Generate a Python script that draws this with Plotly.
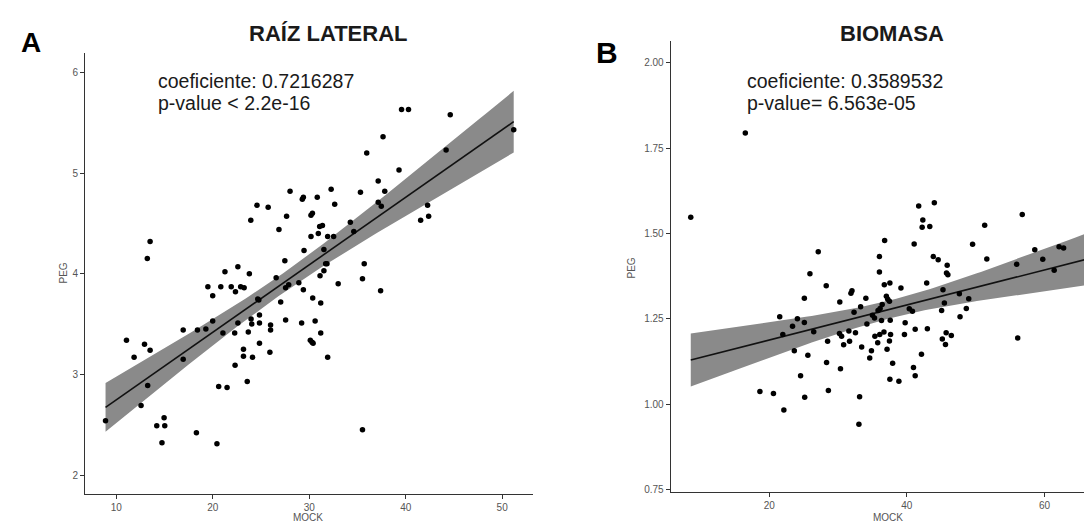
import numpy as np
import plotly.graph_objects as go

# ---------------- data ----------------
raiz_mock = [8.88, 11.05, 11.84, 12.56, 12.92, 13.25, 13.50, 13.50, 13.21, 14.19,
             14.73, 14.95, 15.02, 16.93, 16.93, 18.30, 18.41, 19.28, 19.49, 19.99,
             19.99, 20.43, 20.61, 20.83, 21.05, 21.26, 21.48, 21.91, 22.27, 22.31,
             22.35, 22.60, 22.60, 22.89, 23.18, 23.18, 23.25, 23.57, 23.68, 23.79,
             23.94, 23.97, 24.04, 24.12, 24.58, 24.66, 24.77, 24.84, 24.84, 24.84,
             25.74, 25.92, 25.99, 25.99, 26.57, 26.86, 27.04, 27.47, 27.55, 27.55,
             27.65, 27.87, 28.01, 28.92, 29.21, 29.28, 29.39, 29.39, 29.46, 30.11,
             30.18, 30.18, 30.29, 30.40, 30.33, 30.36, 30.61, 30.83, 30.94, 31.08,
             31.12, 31.19, 31.19, 31.37, 31.52, 31.52, 31.70, 31.84, 31.91, 31.91,
             32.27, 32.53, 32.64, 33.00, 34.26, 34.62, 35.31, 35.52, 35.52, 35.70,
             35.96, 37.15, 37.15, 37.40, 37.47, 37.65, 37.83, 39.31, 39.57, 40.29,
             41.55, 42.27, 42.38, 44.19, 44.62, 51.20]
raiz_peg = [2.54, 3.34, 3.17, 2.69, 3.30, 2.89, 3.24, 4.32, 4.15, 2.49,
            2.32, 2.57, 2.49, 3.44, 3.15, 2.42, 3.44, 3.45, 3.87, 3.78,
            3.53, 2.31, 2.88, 3.87, 3.41, 4.02, 2.87, 3.87, 3.41, 3.09,
            3.82, 4.07, 3.51, 3.87, 3.25, 3.18, 3.86, 2.93, 3.42, 4.00,
            4.53, 3.55, 3.50, 3.17, 4.68, 3.75, 3.74, 3.59, 3.51, 3.31,
            4.66, 3.22, 3.49, 3.44, 3.96, 4.44, 3.72, 4.13, 3.86, 3.54,
            4.57, 3.89, 4.82, 3.91, 3.51, 4.74, 4.76, 3.84, 4.23, 3.34,
            4.37, 4.58, 3.32, 3.31, 4.60, 3.76, 3.53, 4.76, 4.40, 4.47,
            3.98, 3.71, 3.41, 4.48, 4.24, 4.03, 4.10, 4.10, 3.17, 4.37,
            4.84, 4.37, 4.69, 3.90, 4.51, 4.42, 4.81, 3.95, 2.45, 4.10,
            5.20, 4.92, 4.71, 3.83, 4.67, 5.36, 4.82, 5.03, 5.63, 5.63,
            4.53, 4.68, 4.57, 5.23, 5.58, 5.43]

bio_mock = [8.59, 16.52, 18.64, 20.61, 21.52, 21.97, 22.12, 23.38, 23.64, 24.09,
            24.55, 25.10, 25.10, 25.15, 25.61, 25.91, 26.46, 27.12, 28.28, 28.33,
            28.48, 28.59, 30.25, 30.20, 30.35, 30.51, 30.81, 31.57, 31.67, 31.87,
            32.02, 32.32, 32.53, 33.13, 33.03, 33.28, 33.43, 34.04, 34.19, 34.60,
            34.85, 35.00, 35.35, 35.30, 35.76, 35.81, 36.01, 36.01, 36.06, 36.11,
            36.31, 36.41, 36.67, 36.77, 36.72, 37.02, 37.12, 37.22, 37.47, 37.53,
            37.58, 37.47, 37.53, 37.63, 37.93, 38.84, 39.14, 39.65, 39.75, 40.35,
            40.81, 40.96, 41.06, 41.21, 41.21, 41.72, 42.12, 42.22, 42.32, 42.98,
            42.88, 43.33, 43.84, 43.99, 44.55, 45.05, 45.15, 45.25, 45.45, 45.61,
            45.71, 45.76, 45.86, 45.96, 46.46, 47.63, 47.73, 48.64, 48.99, 49.55,
            51.31, 51.62, 55.96, 56.11, 56.77, 58.59, 59.75, 61.41, 62.12, 62.78,
            66.57]
bio_peg = [1.547, 1.794, 1.037, 1.031, 1.256, 1.204, 0.983, 1.228, 1.156, 1.250,
           1.083, 1.310, 1.239, 1.020, 1.143, 1.382, 1.212, 1.446, 1.347, 1.122,
           1.184, 1.040, 1.299, 1.207, 1.104, 1.199, 1.174, 1.214, 1.184, 1.325,
           1.332, 1.269, 1.209, 1.022, 0.941, 1.285, 1.167, 1.310, 1.235, 1.135,
           1.156, 1.260, 1.199, 1.252, 1.180, 1.274, 1.432, 1.387, 1.204, 1.280,
           1.245, 1.292, 1.211, 1.479, 1.350, 1.316, 1.161, 1.307, 1.301, 1.355,
           1.246, 1.185, 1.073, 1.204, 1.120, 1.067, 1.340, 1.204, 1.238, 1.279,
           1.272, 1.107, 1.469, 1.219, 1.083, 1.580, 1.146, 1.518, 1.539, 1.221,
           1.355, 1.520, 1.432, 1.590, 1.423, 1.274, 1.191, 1.335, 1.296, 1.175,
           1.209, 1.384, 1.407, 1.379, 1.201, 1.323, 1.256, 1.280, 1.309, 1.468,
           1.524, 1.425, 1.410, 1.194, 1.555, 1.452, 1.424, 1.392, 1.461, 1.457,
           1.452]

titles = ["RAÍZ LATERAL", "BIOMASA"]
panel_letters = ["A", "B"]
stats_a = ["coeficiente: 0.7216287", "p-value < 2.2e-16"]
stats_b = ["coeficiente: 0.3589532", "p-value= 6.563e-05"]
x_label = "MOCK"
y_label = "PEG"
ticks_a_x = [10, 20, 30, 40, 50]
ticks_a_y = [2, 3, 4, 5, 6]
ticks_b_x = [20, 40, 60]
ticks_b_y = [0.75, 1.00, 1.25, 1.50, 1.75, 2.00]
ticks_b_y_text = ["0.75", "1.00", "1.25", "1.50", "1.75", "2.00"]

# ---------------- helpers ----------------
W, H = 1092, 522
def px(x):
    return x / W
def py(y):
    return 1 - y / H

def fit_band(x, y, t=1.98):
    x = np.asarray(x, float)
    y = np.asarray(y, float)
    n = len(x)
    b, a = np.polyfit(x, y, 1)
    xs = np.linspace(x.min(), x.max(), 100)
    yhat = a + b * xs
    resid = y - (a + b * x)
    s = np.sqrt(np.sum(resid ** 2) / (n - 2))
    sxx = np.sum((x - x.mean()) ** 2)
    se = s * np.sqrt(1 / n + (xs - x.mean()) ** 2 / sxx)
    return xs, yhat, yhat - t * se, yhat + t * se

FONT = "Liberation Sans, Arial, sans-serif"
BAND = "#8a8a8a"

fig = go.Figure()
for (xd, yd, xa, ya) in [(raiz_mock, raiz_peg, "x", "y"), (bio_mock, bio_peg, "x2", "y2")]:
    xs, yh, lo, hi = fit_band(xd, yd)
    fig.add_trace(go.Scatter(x=np.concatenate([xs, xs[::-1]]), y=np.concatenate([hi, lo[::-1]]),
                             fill="toself", fillcolor=BAND, line=dict(width=0), mode="lines",
                             hoverinfo="skip", showlegend=False, xaxis=xa, yaxis=ya))
    fig.add_trace(go.Scatter(x=xs, y=yh, mode="lines", line=dict(color="#111111", width=1.6),
                             showlegend=False, xaxis=xa, yaxis=ya))
    fig.add_trace(go.Scatter(x=xd, y=yd, mode="markers",
                             marker=dict(color="#000000", size=5.5, line=dict(width=0)),
                             showlegend=False, xaxis=xa, yaxis=ya))

axis_common = dict(showline=True, linecolor="#333333", linewidth=1, ticks="outside",
                   ticklen=4, tickwidth=1, tickcolor="#333333", showgrid=False, zeroline=False,
                   tickfont=dict(family=FONT, size=10, color="#555555"))

fig.update_layout(
    width=W, height=H, margin=dict(l=0, r=0, t=0, b=0),
    paper_bgcolor="white", plot_bgcolor="white", showlegend=False,
    xaxis=dict(domain=[px(77), px(525)], range=[6.75, 53.2], tickvals=ticks_a_x,
               anchor="y", **axis_common),
    yaxis=dict(domain=[py(489), py(45)], range=[1.81, 6.195], tickvals=ticks_a_y,
               anchor="x", **axis_common),
    xaxis2=dict(domain=[px(662.6), 1.0], range=[5.66, 68.07], tickvals=ticks_b_x,
                anchor="y2", **axis_common),
    yaxis2=dict(domain=[py(486.7), py(33)], range=[0.743, 2.064], tickvals=ticks_b_y,
                ticktext=ticks_b_y_text, anchor="x2", **axis_common),
)

ann = []
def add(text, x, y, size, bold=False, color="#1a1a1a", xanchor="center", angle=0):
    ann.append(dict(text=f"<b>{text}</b>" if bold else text, x=px(x), y=py(y),
                    xref="paper", yref="paper", showarrow=False, xanchor=xanchor,
                    yanchor="middle", textangle=angle,
                    font=dict(family=FONT, size=size, color=color)))

# panel letters & titles
add(panel_letters[0], 23, 35, 28, bold=True, color="#000000")
add(panel_letters[1], 599, 45, 30, bold=True, color="#000000")
add(titles[0], 320, 26, 22, bold=True)
add(titles[1], 884, 26, 22, bold=True)
# stats
add(stats_a[0], 148, 73, 19.5, xanchor="left")
add(stats_a[1], 148, 96, 19.5, xanchor="left")
add(stats_b[0], 737, 73, 19.5, xanchor="left")
add(stats_b[1], 737, 96, 19.5, xanchor="left")
# axis titles
add(x_label, 300, 512, 10, color="#555555")
add(x_label, 880, 512, 10, color="#555555")
add(y_label, 55, 267, 10, color="#555555", angle=-90)
add(y_label, 623, 262, 10, color="#555555", angle=-90)

fig.update_layout(annotations=ann)
fig.write_html("out.html")
